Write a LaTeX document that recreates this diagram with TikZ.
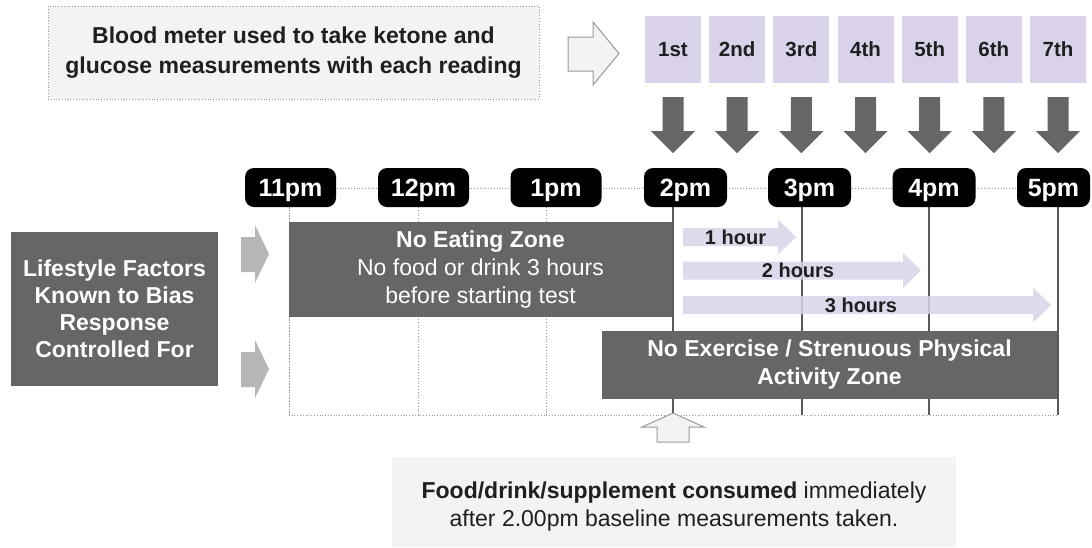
\documentclass[tikz,border=0pt]{standalone}
\usepackage{fontspec}
\setmainfont{Liberation Sans}
\definecolor{zonegray}{HTML}{666666}
\definecolor{linegray}{HTML}{595959}
\definecolor{lavender}{HTML}{D9D2E9}
\definecolor{panelgray}{HTML}{F3F3F3}
\definecolor{edgegray}{HTML}{999999}
\definecolor{cuegray}{HTML}{B7B7B7}
\definecolor{inkblack}{HTML}{1F1F1F}

\begin{document}
\begin{tikzpicture}[x=1pt, y=-1pt,
    zonebox/.style={fill=zonegray, text=white, align=center, inner sep=0pt, font=\fontsize{23}{28}\selectfont},
    timebox/.style={fill=black, text=white, rounded corners=9pt, minimum height=39pt, inner sep=0pt, text depth=0pt, font=\bfseries\fontsize{25}{28}\selectfont},
    readbox/.style={fill=lavender, text=inkblack, minimum width=56pt, minimum height=67pt, inner sep=0pt, font=\bfseries\fontsize{20.5}{24}\selectfont},
    hourtext/.style={text=inkblack, inner sep=0pt, font=\bfseries\fontsize{20}{24}\selectfont},
    gridline/.style={draw=edgegray, dotted, line width=0.8pt},
    hourline/.style={draw=linegray, line width=2.6pt},
    hollow/.style={fill=panelgray, draw=edgegray, line width=1pt}]

    \useasboundingbox (0,0) rectangle (1092,547);

    % --- Meter note and the seven readings ---
    \node[fill=panelgray, draw=edgegray, dotted, line width=0.8pt, minimum width=491pt, minimum height=93pt, align=center, text=inkblack, font=\bfseries\fontsize{23}{30}\selectfont] (meter) at (293.5,52.5) {Blood meter used to take ketone and\\glucose measurements with each reading};
    \draw[hollow] (568,37) -- (593,37) -- (593,22) -- (619,53.5) -- (593,85) -- (593,71) -- (568,71) -- cycle;

    \foreach \lab [count=\i from 0] in {1st,2nd,3rd,4th,5th,6th,7th} {
        \node[readbox] (r\i) at ({673+64.17*\i},49.5) {\lab};
        \fill[zonegray, shift={(r\i.south)}] (-10.5,14) -- (10.5,14) -- (10.5,48) -- (22,48) -- (0,70) -- (-22,48) -- (-10.5,48) -- cycle;
    }

    % --- Time grid ---
    \draw[gridline] (289,188) rectangle (1058,415);
    \foreach \x in {289,418,546}
        \draw[gridline] (\x,207) -- (\x,415);
    \foreach \x in {673,802,929,1058}
        \draw[hourline] (\x,207) -- (\x,415);

    \foreach \x/\t/\w [count=\k] in {290.5/11pm/91, 423.5/12pm/91, 556/1pm/91, 685.5/2pm/83, 809.5/3pm/83, 934/4pm/83, 1053.5/5pm/73}
        \node[timebox, minimum width=\w pt] (t\k) at (\x,187.5) {\t};

    % --- Controlled zones ---
    \node[zonebox, minimum width=383pt, minimum height=95pt] (eat) at (480.5,269.5) {\textbf{No Eating Zone}\\No food or drink 3 hours\\before starting test};
    \node[zonebox, font=\bfseries\fontsize{23}{28}\selectfont, minimum width=455pt, minimum height=68pt] (exercise) at (829.5,365) {No Exercise / Strenuous Physical\\Activity Zone};

    % --- Time since baseline ---
    \foreach \yc/\xh/\xt/\lab [count=\k] in {237/778/735.5/1 hour, 270.5/903/798/2 hours, 305/1033/861/3 hours} {
        \fill[lavender, fill opacity=0.85] (683,{\yc-9}) -- (\xh,{\yc-9}) -- (\xh,{\yc-17.5}) -- ({\xh+18},\yc) -- (\xh,{\yc+17.5}) -- (\xh,{\yc+9}) -- (683,{\yc+9}) -- cycle;
        \node[hourtext] (h\k) at (\xt,\yc) {\lab};
    }

    % --- Lifestyle factors ---
    \node[zonebox, font=\bfseries\fontsize{23}{27}\selectfont, minimum width=207pt, minimum height=154pt] (life) at (114.5,309) {Lifestyle Factors\\Known to Bias\\Response\\Controlled For};
    \foreach \yc in {254,369}
        \fill[cuegray] (241,{\yc-17}) -- (255,{\yc-17}) -- (255,{\yc-29}) -- (269,\yc) -- (255,{\yc+29}) -- (255,{\yc+18}) -- (241,{\yc+18}) -- cycle;

    % --- Intake note ---
    \draw[hollow] (673,413) -- (704,427) -- (689,427) -- (689,442) -- (657,442) -- (657,427) -- (642,427) -- cycle;
    \fill[panelgray] (392,457) rectangle (956,547);
    \node[align=center, text=inkblack, font=\fontsize{23}{28}\selectfont] (food) at (674,507) {\textbf{Food/drink/supplement consumed} immediately\\after 2.00pm baseline measurements taken.};

\end{tikzpicture}
\end{document}
